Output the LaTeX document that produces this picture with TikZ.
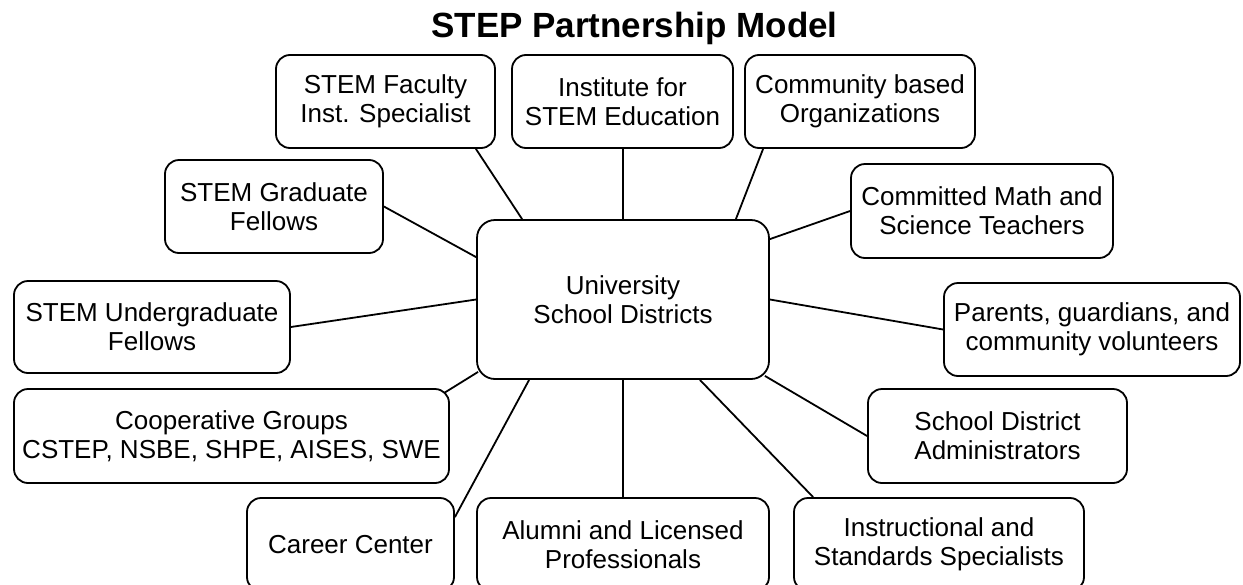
\documentclass[tikz,border=0pt]{standalone}
\usepackage{fontspec}
\setmainfont{Liberation Sans}
\begin{document}
\begin{tikzpicture}[x=1pt,y=-1pt,
  box/.style={draw,line width=1.8pt,rounded corners=14pt,align=center,inner sep=0pt,
    minimum height=93pt,font=\fontsize{26}{29}\selectfont},
  link/.style={line width=1.8pt}]
\useasboundingbox (0,0) rectangle (1243,584);
\node[anchor=base,font=\fontsize{35}{40}\selectfont\bfseries] (title) at (634.5,37) {STEP Partnership Model};
\node[box,rounded corners=18pt,minimum width=292pt,minimum height=159pt] (ctr) at (623,299.5) {University\\School Districts};
\node[box,minimum width=219pt] (fac) at (385.5,101.5) {STEM Faculty\\Inst. Specialist};
\node[box,minimum width=221pt] (ise) at (622.5,101.5) {Institute for\\STEM Education};
\node[box,minimum width=230pt] (cbo) at (860,101.5) {Community based\\Organizations};
\node[box,minimum width=218pt] (grad) at (274,206.5) {STEM Graduate\\Fellows};
\node[box,minimum width=262pt,minimum height=94pt] (math) at (982,211) {Committed Math and\\Science Teachers};
\node[box,minimum width=276pt,minimum height=92pt] (ugrad) at (152,327) {STEM Undergraduate\\Fellows};
\node[box,minimum width=296pt] (par) at (1092,329.5) {Parents, guardians, and\\community volunteers};
\node[box,minimum width=435pt,minimum height=94pt] (coop) at (231.5,436) {Cooperative Groups\\CSTEP, NSBE, SHPE, AISES, SWE};
\node[box,minimum width=259pt,minimum height=94pt] (sda) at (997.5,436) {School District\\Administrators};
\node[box,minimum width=207pt] (car) at (350.5,544.5) {Career Center};
\node[box,minimum width=292pt] (alum) at (623,544.5) {Alumni and Licensed\\Professionals};
\node[box,minimum width=290pt] (iss) at (939,544.5) {Instructional and\\Standards Specialists};
\draw[link] ([xshift=-20pt]fac.south east) -- ([xshift=46pt]ctr.north west);
\draw[link] (ctr.north |- ise.south) -- (ctr.north);
\draw[link] ([xshift=19pt]cbo.south west) -- ([xshift=-34pt]ctr.north east);
\draw[link] (grad.east) -- ([yshift=-38pt]ctr.north west);
\draw[link] (math.west) -- ([yshift=-20pt]ctr.north east);
\draw[link] (ugrad.east) -- (ctr.west);
\draw[link] (par.west) -- (ctr.east);
\draw[link] ([xshift=-6pt,yshift=-5pt]coop.north east) -- ([xshift=2pt,yshift=8pt]ctr.south west);
\draw[link] ([yshift=-20pt]car.north east) -- ([xshift=53pt]ctr.south west);
\draw[link] (ctr.south) -- (alum.north);
\draw[link] ([xshift=-70pt]ctr.south east) -- ([xshift=20pt]iss.north west);
\draw[link] ([xshift=-5pt,yshift=4pt]ctr.south east) -- (sda.west);
\end{tikzpicture}
\end{document}
